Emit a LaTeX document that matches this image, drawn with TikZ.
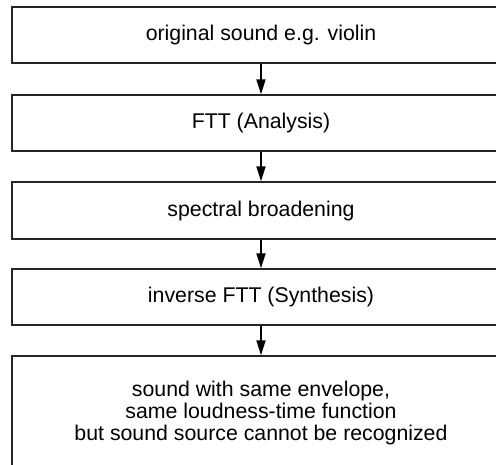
\documentclass[tikz,border=0pt]{standalone}
\usepackage{fontspec}
\setmainfont{Liberation Sans}
\usetikzlibrary{arrows.meta}
\begin{document}
\begin{tikzpicture}[x=1pt,y=1pt,
  box/.style={draw=black!85, line width=1.4pt, fill=white, minimum width=498pt, inner sep=0pt, align=center, font=\fontsize{21.3}{22.3}\selectfont},
  flow/.style={line width=1.8pt, -{Triangle[length=15pt,width=9pt]}}]
\useasboundingbox (0,0) rectangle (496,-464);
\clip (0,0) rectangle (496,-464);
\node[box, minimum height=56pt] (b1) at (261,-35) {original sound e.g. violin};
\node[box, minimum height=56pt] (b2) at (261,-123) {FTT (Analysis)};
\node[box, minimum height=57pt] (b3) at (261,-210.5) {spectral broadening};
\node[box, minimum height=56pt] (b4) at (261,-297) {inverse FTT (Synthesis)};
\node[box, minimum height=114pt] (b5) at (261,-413) {sound with same envelope,\\same loudness-time function\\but sound source cannot be recognized};
\draw[flow] (b1.south) -- (b2.north);
\draw[flow] (b2.south) -- (b3.north);
\draw[flow] (b3.south) -- (b4.north);
\draw[flow] (b4.south) -- (b5.north);
\end{tikzpicture}
\end{document}
